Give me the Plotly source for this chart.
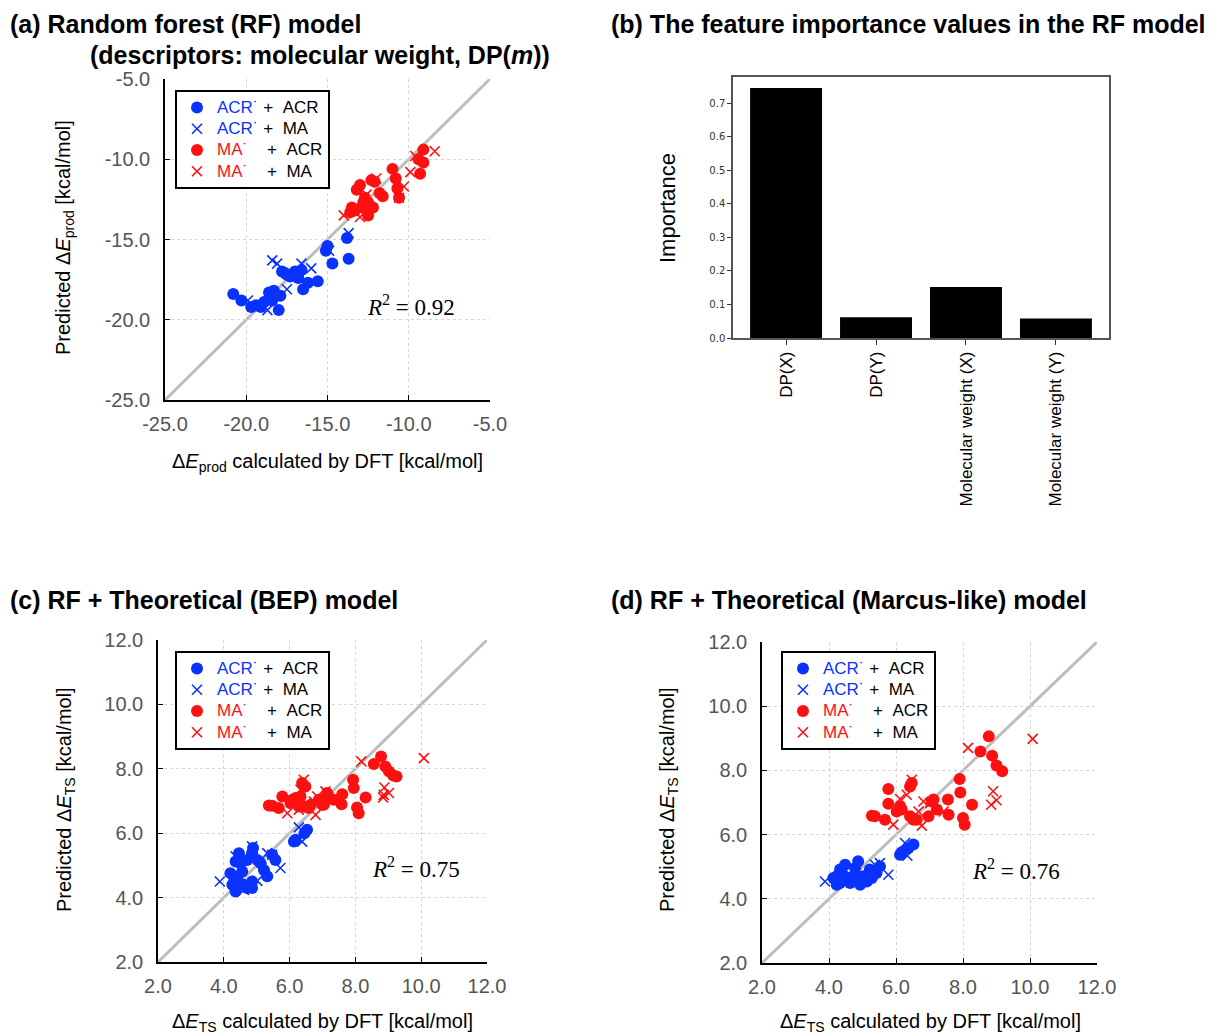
import plotly.graph_objects as go

# ---------------- data ----------------
# (a) RF model: reaction energy, DFT vs predicted
a_acr_acr_x = [-20.8, -20.3, -19.7, -19.1, -18.0, -18.6, -18.3, -17.9, -18.4, -19.4, -18.9, -17.6, -17.3,
               -17.0, -16.6, -16.8, -16.2, -15.6, -16.5, -15.0, -15.1, -14.7, -13.8, -13.7, -17.8, -17.5]
a_acr_acr_y = [-18.4, -18.8, -19.2, -19.2, -19.4, -18.3, -18.2, -18.5, -18.8, -19.1, -18.9, -17.1, -17.3,
               -17.0, -16.9, -17.4, -17.7, -17.6, -18.1, -15.4, -15.7, -16.5, -14.9, -16.2, -17.0, -17.2]
a_acr_ma_x = [-18.4, -18.1, -16.6, -16.0, -17.5, -19.9, -18.7, -14.9, -13.7, -16.8]
a_acr_ma_y = [-16.3, -16.5, -16.5, -16.8, -18.1, -18.8, -19.4, -15.7, -14.6, -17.0]
a_ma_acr_x = [-9.1, -9.4, -9.1, -9.3, -11.0, -10.8, -10.7, -10.6, -11.6, -11.8, -12.1, -12.3, -13.0,
              -13.2, -12.7, -12.5, -12.2, -13.5, -13.3, -12.9, -12.5, -13.6, -12.4, -12.8]
a_ma_acr_y = [-9.4, -10.0, -10.2, -10.9, -10.6, -11.2, -11.8, -12.4, -12.3, -12.1, -11.4, -11.3, -11.6,
              -11.9, -12.4, -12.7, -13.0, -13.0, -13.2, -13.0, -13.5, -13.3, -12.9, -12.7]
a_ma_ma_x = [-8.4, -9.6, -9.9, -10.3, -14.0, -13.0, -12.0, -10.6, -12.6]
a_ma_ma_y = [-9.5, -9.8, -10.8, -11.7, -13.5, -13.6, -11.2, -12.4, -12.2]
a_ticks = [-25, -20, -15, -10, -5]
a_ticklabels = ["-25.0", "-20.0", "-15.0", "-10.0", "-5.0"]

# (b) feature importance values
features = ["DP(X)", "DP(Y)", "Molecular weight (X)", "Molecular weight (Y)"]
importance = [0.745, 0.062, 0.152, 0.058]

# (c) RF + BEP: activation energy, DFT vs predicted
c_acr_acr_x = [6.53, 6.45, 6.18, 6.13, 4.89, 4.86, 4.46, 4.36, 4.51, 4.71, 5.02, 5.12, 5.22, 5.32, 5.47,
               5.57, 4.20, 4.30, 4.41, 4.26, 4.36, 4.61, 4.71, 4.86, 4.86, 4.56]
c_acr_acr_y = [6.11, 6.00, 5.80, 5.74, 5.54, 5.38, 5.38, 5.12, 5.07, 5.17, 5.17, 5.07, 4.86, 4.66, 5.33,
               5.17, 4.76, 4.66, 4.61, 4.40, 4.19, 4.40, 4.30, 4.30, 4.50, 4.81]
c_acr_ma_x = [6.28, 6.38, 3.88, 5.72, 5.32, 5.47, 4.61, 5.02, 4.81, 4.36, 4.86]
c_acr_ma_y = [6.18, 5.74, 4.50, 4.92, 5.38, 5.33, 4.24, 4.52, 4.34, 5.28, 5.59]
c_ma_acr_x = [8.78, 8.56, 8.91, 9.02, 9.15, 9.25, 7.93, 7.95, 8.31, 8.05, 8.10, 7.60, 7.58, 7.14, 7.19,
              7.04, 6.89, 6.38, 6.48, 6.33, 6.18, 6.08, 5.78, 6.03, 5.37, 5.47, 5.67, 6.28, 6.43, 6.58,
              6.64, 6.99, 7.34]
c_ma_acr_y = [8.38, 8.15, 8.07, 7.92, 7.79, 7.76, 7.66, 7.40, 7.11, 6.80, 6.62, 7.21, 6.90, 7.25, 7.14,
              6.88, 7.04, 7.56, 7.45, 7.14, 7.09, 7.04, 7.14, 6.93, 6.86, 6.85, 6.78, 6.83, 6.83, 6.78,
              6.88, 6.88, 7.04]
c_ma_ma_x = [10.08, 8.18, 8.88, 8.86, 9.02, 8.84, 5.93, 6.28, 6.79, 6.84, 6.74, 6.33, 6.43, 7.09]
c_ma_ma_y = [8.33, 8.23, 7.42, 7.19, 7.25, 7.11, 6.62, 6.73, 6.57, 7.14, 6.98, 7.35, 7.66, 7.30]

# (d) RF + Marcus-like: activation energy, DFT vs predicted
d_acr_acr_x = [6.52, 6.37, 6.12, 6.17, 4.87, 4.48, 4.33, 4.23, 4.33, 4.53, 4.72, 4.63, 4.93, 5.02, 5.22,
               5.28, 5.52, 5.42, 4.43, 4.13, 4.23, 4.78, 5.13]
d_acr_acr_y = [5.69, 5.58, 5.37, 5.45, 5.17, 5.06, 4.91, 4.70, 4.49, 4.60, 4.70, 4.49, 4.44, 4.70, 4.91,
               4.65, 5.01, 4.80, 4.70, 4.65, 4.44, 4.96, 4.54]
d_acr_ma_x = [6.27, 6.34, 3.88, 5.77, 5.52, 5.37, 5.08, 4.63, 4.48]
d_acr_ma_y = [5.74, 5.34, 4.54, 4.75, 5.11, 5.06, 4.70, 4.70, 4.91]
d_ma_acr_x = [8.77, 8.52, 8.87, 9.00, 9.17, 7.90, 7.92, 8.27, 8.00, 8.05, 7.55, 7.57, 7.12, 7.07, 7.22,
              6.97, 6.47, 6.42, 5.77, 5.77, 6.12, 6.02, 6.17, 5.37, 5.28, 5.67, 6.42, 6.52, 6.62]
d_ma_acr_y = [9.06, 8.59, 8.46, 8.15, 7.97, 7.73, 7.31, 6.93, 6.52, 6.31, 7.09, 6.62, 7.09, 7.03, 6.78,
              6.57, 7.61, 7.50, 7.42, 6.96, 6.88, 6.72, 6.78, 6.57, 6.59, 6.46, 6.57, 6.46, 6.46]
d_ma_ma_x = [10.08, 8.15, 8.90, 9.00, 8.84, 6.12, 6.32, 5.92, 6.77, 6.67, 6.82, 7.02, 6.47, 7.42]
d_ma_ma_y = [8.98, 8.70, 7.35, 7.07, 6.93, 7.11, 7.24, 6.31, 6.28, 6.72, 7.03, 6.98, 7.71, 6.72]

r2_values = ["0.92", "0.75", "0.76"]

# ---------------- styling ----------------
FONT = "Liberation Sans, Arial, Helvetica, sans-serif"
SERIF = "Liberation Serif, Times New Roman, serif"
BLUE = "#0a32ff"
RED = "#ff1010"
GRID = "#d4d4d4"
TICKGRAY = "#555555"

W, H = 1220, 1036


def px_x(v):
    return v / W


def px_y(v):
    return 1 - v / H


fig = go.Figure()


def legend_name(radical, color, partner, pad):
    # legend rows are spaced by the (smaller) legend font; the label text itself is drawn at 17px
    return ("<span style='font-size:17px'>"
            f"<span style='color:{color}'>{radical}\u02d9</span>"
            + "&nbsp;" * pad + f"+&nbsp;&nbsp;{partner}</span>")


def add_scatter_panel(xa, ya, legend_id, sets):
    (aa_x, aa_y), (am_x, am_y), (ma_x, ma_y), (mm_x, mm_y) = sets
    specs = [
        (aa_x, aa_y, "circle", BLUE, legend_name("ACR", BLUE, "ACR", 1)),
        (am_x, am_y, "x-thin", BLUE, legend_name("ACR", BLUE, "MA", 1)),
        (ma_x, ma_y, "circle", RED, legend_name("MA", RED, "ACR", 4)),
        (mm_x, mm_y, "x-thin", RED, legend_name("MA", RED, "MA", 4)),
    ]
    for xs, ys, sym, col, name in specs:
        if sym == "circle":
            marker = dict(symbol="circle", size=12, color=col, line=dict(width=0))
        else:
            marker = dict(symbol="x-thin", size=10, color=col, line=dict(width=1.6, color=col))
        fig.add_trace(go.Scatter(x=xs, y=ys, mode="markers", marker=marker, name=name,
                                 xaxis=xa, yaxis=ya, legend=legend_id, showlegend=True))


# parity-plot traces
add_scatter_panel("x", "y", "legend", [(a_acr_acr_x, a_acr_acr_y), (a_acr_ma_x, a_acr_ma_y),
                                       (a_ma_acr_x, a_ma_acr_y), (a_ma_ma_x, a_ma_ma_y)])
add_scatter_panel("x3", "y3", "legend2", [(c_acr_acr_x, c_acr_acr_y), (c_acr_ma_x, c_acr_ma_y),
                                          (c_ma_acr_x, c_ma_acr_y), (c_ma_ma_x, c_ma_ma_y)])
add_scatter_panel("x4", "y4", "legend3", [(d_acr_acr_x, d_acr_acr_y), (d_acr_ma_x, d_acr_ma_y),
                                          (d_ma_acr_x, d_ma_acr_y), (d_ma_ma_x, d_ma_ma_y)])

# feature importance bars
fig.add_trace(go.Bar(x=features, y=importance, marker=dict(color="black", line=dict(width=0)),
                     width=0.8, xaxis="x2", yaxis="y2", showlegend=False))

range_a = [a_ticks[0], a_ticks[-1]]
range_cd = [2, 12]

# y = x reference lines
for xr, yr, rng in (("x", "y", range_a), ("x3", "y3", range_cd), ("x4", "y4", range_cd)):
    fig.add_shape(type="line", xref=xr, yref=yr, x0=rng[0], y0=rng[0], x1=rng[1], y1=rng[1],
                  line=dict(color="#bdbdbd", width=3), layer="below")


def parity_axis(domain, rng, dtick, anchor, letter, tickvals=None, ticktext=None):
    ax = dict(domain=domain, range=rng, dtick=dtick, tick0=rng[0], tickformat=".1f",
              showgrid=True, gridcolor=GRID, griddash="dot", gridwidth=1,
              showline=True, linecolor="black", linewidth=1.5, mirror=False,
              ticks="inside", ticklen=5, tickcolor="black", tickwidth=1.2,
              ticklabelstandoff=9 if letter == "y" else 5,
              tickfont=dict(family=FONT, size=20, color=TICKGRAY),
              zeroline=False, anchor=anchor, fixedrange=True, automargin=False)
    if tickvals is not None:
        ax.update(tickmode="array", tickvals=tickvals, ticktext=ticktext)
    return ax


layout = dict(
    width=W, height=H, margin=dict(l=0, r=0, t=0, b=0, pad=0, autoexpand=False),
    paper_bgcolor="white", plot_bgcolor="white",
    font=dict(family=FONT, color="black"),
    xaxis=parity_axis([px_x(165), px_x(490)], range_a, 5, "y", "x", a_ticks, a_ticklabels),
    yaxis=parity_axis([px_y(400), px_y(79)], range_a, 5, "x", "y", a_ticks, a_ticklabels),
    xaxis3=parity_axis([px_x(158), px_x(487)], range_cd, 2, "y3", "x"),
    yaxis3=parity_axis([px_y(962), px_y(640)], range_cd, 2, "x3", "y"),
    xaxis4=parity_axis([px_x(762), px_x(1097)], range_cd, 2, "y4", "x"),
    yaxis4=parity_axis([px_y(963), px_y(642)], range_cd, 2, "x4", "y"),
    xaxis2=dict(domain=[px_x(733), px_x(1109)], range=[-0.59, 3.59], anchor="y2",
                showline=True, linecolor="#555555", linewidth=1.5, mirror=True,
                ticks="outside", ticklen=5, tickcolor="#333333", tickangle=-90,
                tickfont=dict(family=FONT, size=17, color="black"), showgrid=False,
                fixedrange=True, automargin=False),
    yaxis2=dict(domain=[px_y(338), px_y(77)], range=[0, 0.778], anchor="x2", dtick=0.1,
                tickformat=".1f", showline=True, linecolor="#555555", linewidth=1.5, mirror=True,
                ticks="outside", ticklen=4, tickcolor="#333333",
                tickfont=dict(family="DejaVu Sans, sans-serif", size=10, color="#333333"),
                showgrid=False, zeroline=False, fixedrange=True, automargin=False),
    bargap=0.2,
    showlegend=True,
)

legend_style = dict(bgcolor="white", bordercolor="black", borderwidth=2,
                    font=dict(family=FONT, size=14, color="black"),
                    xanchor="left", yanchor="top", tracegroupgap=0, itemclick=False)
layout["legend"] = dict(x=px_x(175), y=px_y(90), **legend_style)
layout["legend2"] = dict(x=px_x(175), y=px_y(651), **legend_style)
layout["legend3"] = dict(x=px_x(781), y=px_y(651), **legend_style)

fig.update_layout(**layout)


def note(text, x, y, size, xanchor="left", angle=0, family=FONT):
    fig.add_annotation(text=text, x=px_x(x), y=px_y(y), xref="paper", yref="paper",
                       showarrow=False, xanchor=xanchor, yanchor="middle", textangle=angle,
                       borderpad=0, font=dict(family=family, size=size, color="black"))


# panel titles
note("<b>(a) Random forest (RF) model</b>", 9, 24, 25)
note("<b>(descriptors: molecular weight, DP(<i>m</i>))</b>", 89, 55, 25)
note("<b>(b) The feature importance values in the RF model</b>", 610, 24, 25)
note("<b>(c) RF + Theoretical (BEP) model</b>", 9, 600, 25)
note("<b>(d) RF + Theoretical (Marcus-like) model</b>", 610, 600, 25)

# axis titles
note("Predicted Δ<i>E</i><sub>prod</sub> [kcal/mol]", 65, 238, 20, "center", -90)
note("Δ<i>E</i><sub>prod</sub> calculated by DFT [kcal/mol]", 327, 462, 20, "center")
note("Importance", 667, 208, 22, "center", -90)
note("Predicted Δ<i>E</i><sub>TS</sub> [kcal/mol]", 65, 800, 20, "center", -90)
note("Δ<i>E</i><sub>TS</sub> calculated by DFT [kcal/mol]", 322, 1022, 20, "center")
note("Predicted Δ<i>E</i><sub>TS</sub> [kcal/mol]", 668, 800, 20, "center", -90)
note("Δ<i>E</i><sub>TS</sub> calculated by DFT [kcal/mol]", 930, 1022, 20, "center")

# coefficient of determination labels
for (xr, yr, xv, yv), r2 in zip((("x", "y", -9.85, -19.1), ("x3", "y3", 9.83, 4.93),
                                 ("x4", "y4", 9.57, 4.91)), r2_values):
    fig.add_annotation(text=f"<i>R</i><sup>2</sup> = {r2}", x=xv, y=yv, xref=xr, yref=yr,
                       showarrow=False, xanchor="center", yanchor="middle",
                       font=dict(family=SERIF, size=23, color="black"))

fig.write_html("out.html")
